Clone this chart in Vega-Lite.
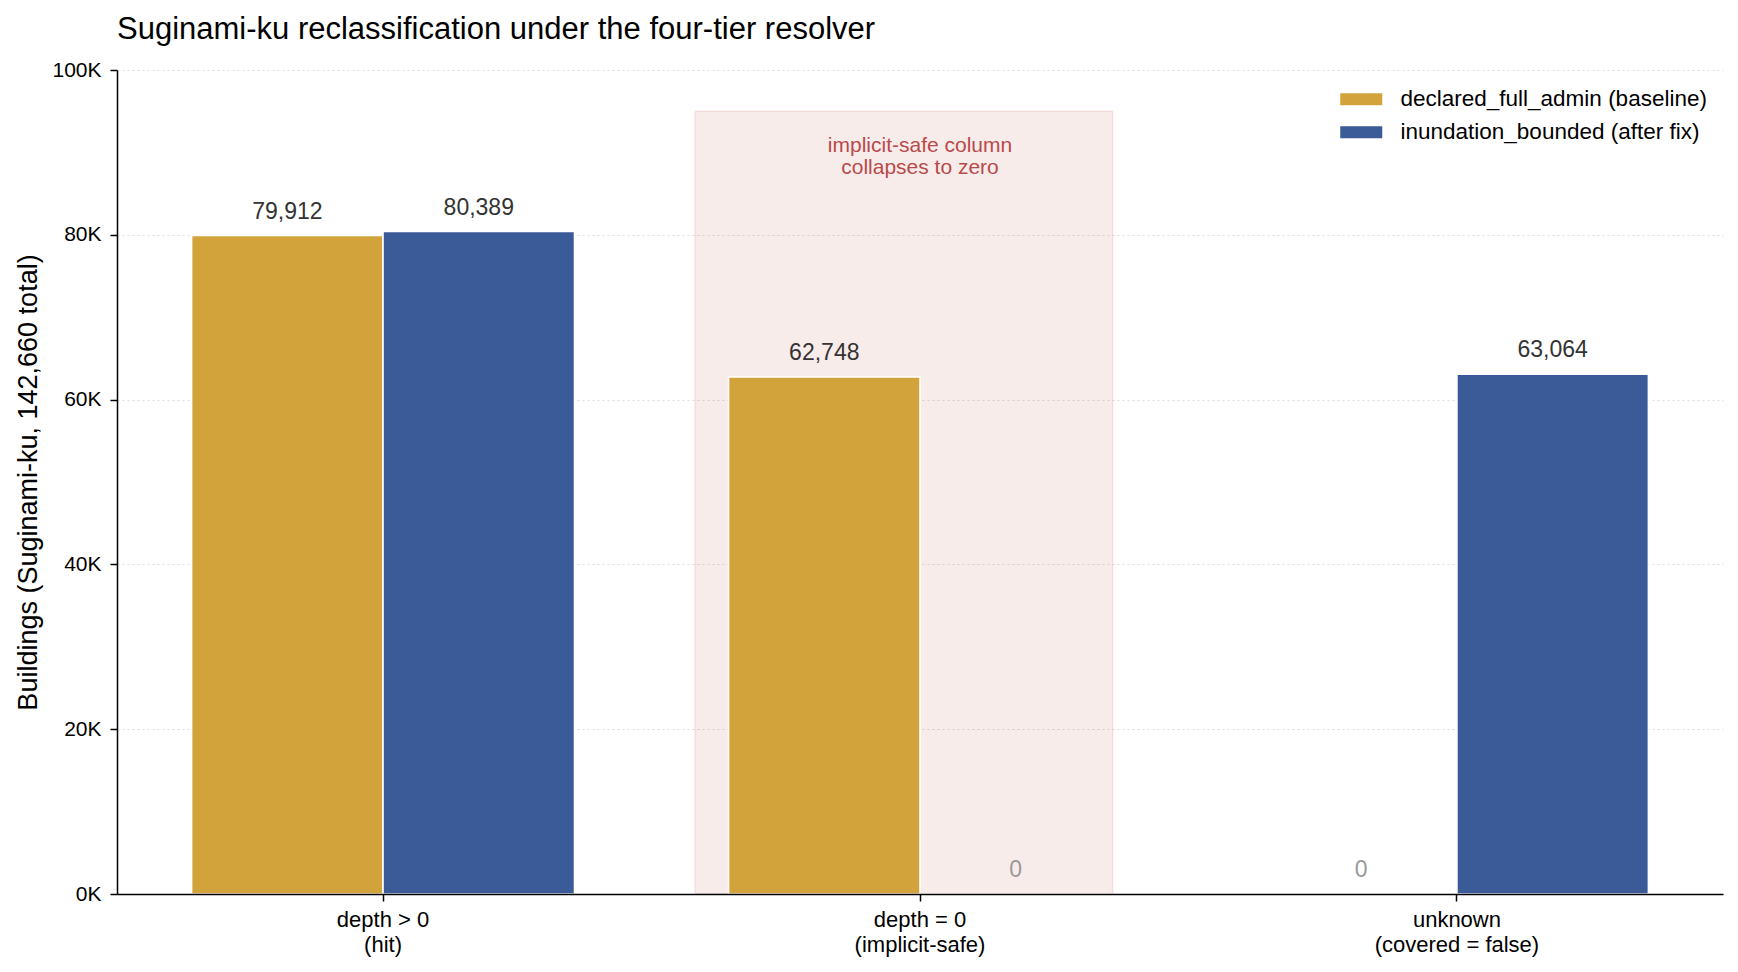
{
  "$schema": "https://vega.github.io/schema/vega-lite/v6.json",
  "width": 1606,
  "height": 824,
  "autosize": {"type": "none"},
  "padding": {"left": 117, "top": 70, "right": 15, "bottom": 78},
  "background": "white",
  "config": {
    "font": "Liberation Sans",
    "view": {"stroke": null},
    "axis": {"labelFont": "Liberation Sans", "titleFont": "Liberation Sans"},
    "legend": {"labelFont": "Liberation Sans"}
  },
  "title": {
    "text": "Suginami-ku reclassification under the four-tier resolver",
    "anchor": "start",
    "frame": "group",
    "fontSize": 31,
    "fontWeight": "normal",
    "color": "#000000",
    "offset": 13
  },
  "datasets": {
    "bars": [
      {"cat": "depth > 0|(hit)", "series": "declared_full_admin (baseline)", "value": 79912},
      {"cat": "depth > 0|(hit)", "series": "inundation_bounded (after fix)", "value": 80389},
      {"cat": "depth = 0|(implicit-safe)", "series": "declared_full_admin (baseline)", "value": 62748},
      {"cat": "depth = 0|(implicit-safe)", "series": "inundation_bounded (after fix)", "value": 0},
      {"cat": "unknown|(covered = false)", "series": "declared_full_admin (baseline)", "value": 0},
      {"cat": "unknown|(covered = false)", "series": "inundation_bounded (after fix)", "value": 63064}
    ],
    "band": [{"x0": 0.58, "x1": 1.36, "y0": 0, "y1": 95000}],
    "note": [{"x": 1, "y": 90000, "text": ["implicit-safe column", "collapses to zero"]}]
  },
  "layer": [
    {
      "layer": [
        {
          "data": {"name": "band"},
          "mark": {"type": "rect", "fill": "#c0504d", "fillOpacity": 0.11, "stroke": "#c0504d", "strokeOpacity": 0.12, "strokeWidth": 1.5},
          "encoding": {
            "x": {"field": "x0", "type": "quantitative", "scale": {"domain": [-0.5, 2.5], "nice": false, "zero": false}, "axis": null},
            "x2": {"field": "x1"},
            "y": {"field": "y0", "type": "quantitative", "title": "Buildings (Suginami-ku, 142,660 total)"},
            "y2": {"field": "y1"}
          }
        },
        {
          "data": {"name": "note"},
          "mark": {"type": "text", "fontSize": 21, "color": "#b94a4a", "align": "center", "baseline": "alphabetic", "lineHeight": 21.5},
          "encoding": {
            "x": {"field": "x", "type": "quantitative", "scale": {"domain": [-0.5, 2.5], "nice": false, "zero": false}, "axis": null},
            "y": {"field": "y", "type": "quantitative", "title": "Buildings (Suginami-ku, 142,660 total)"},
            "text": {"field": "text"}
          }
        }
      ]
    },
    {
      "data": {"name": "bars"},
      "encoding": {
        "x": {
          "field": "cat",
          "type": "nominal",
          "sort": null,
          "scale": {"paddingInner": 0.287, "paddingOuter": 0.139},
          "axis": {
            "title": null,
            "labelExpr": "split(datum.label, '|')",
            "labelFontSize": 22,
            "labelColor": "#000000",
            "labelLineHeight": 25,
            "labelPadding": 8,
            "labelAngle": 0,
            "tickSize": 7,
            "tickColor": "#000000",
            "tickWidth": 1.5,
            "domainColor": "#000000",
            "domainWidth": 1.5,
            "grid": false,
            "zindex": 1
          }
        },
        "xOffset": {"field": "series", "type": "nominal", "sort": null},
        "y": {
          "field": "value",
          "type": "quantitative",
          "scale": {"domain": [0, 100000], "nice": false},
          "title": "Buildings (Suginami-ku, 142,660 total)",
          "axis": {
            "values": [0, 20000, 40000, 60000, 80000, 100000],
            "labelExpr": "(datum.value / 1000) + 'K'",
            "labelFontSize": 21,
            "labelColor": "#000000",
            "labelPadding": 9,
            "tickSize": 7,
            "tickColor": "#000000",
            "tickWidth": 1.5,
            "domainColor": "#000000",
            "domainWidth": 1.5,
            "grid": true,
            "gridColor": "#dddddd",
            "gridDash": [2, 3],
            "gridWidth": 1,
            "titleFontSize": 27,
            "titleFontWeight": "normal",
            "titleColor": "#000000",
            "titleX": -81,
            "titleY": 412,
            "titleAngle": 270,
            "titleAlign": "center",
            "titleBaseline": "alphabetic"
          }
        }
      },
      "layer": [
        {
          "mark": {"type": "bar", "stroke": "white", "strokeWidth": 1.5},
          "encoding": {
            "color": {
              "field": "series",
              "type": "nominal",
              "sort": null,
              "scale": {
                "domain": ["declared_full_admin (baseline)", "inundation_bounded (after fix)"],
                "range": ["#D3A33B", "#3B5A98"]
              },
              "legend": {
                "title": null,
                "orient": "none",
                "legendX": 1233,
                "legendY": 18,
                "padding": 0,
                "symbolType": "M-3.5,-1H3.5V1H-3.5Z",
                "symbolSize": 144,
                "symbolStrokeWidth": 0,
                "labelFontSize": 22.5,
                "labelColor": "#000000",
                "labelOffset": 28,
                "labelLimit": 500,
                "rowPadding": 10
              }
            }
          }
        },
        {
          "mark": {"type": "text", "baseline": "alphabetic", "dy": -17, "fontSize": 23},
          "encoding": {
            "text": {"field": "value", "type": "quantitative", "format": ","},
            "color": {
              "condition": {"test": "datum.value === 0", "value": "#999999"},
              "value": "#333333"
            }
          }
        }
      ]
    }
  ],
  "resolve": {"scale": {"x": "independent"}, "axis": {"x": "independent"}}
}
